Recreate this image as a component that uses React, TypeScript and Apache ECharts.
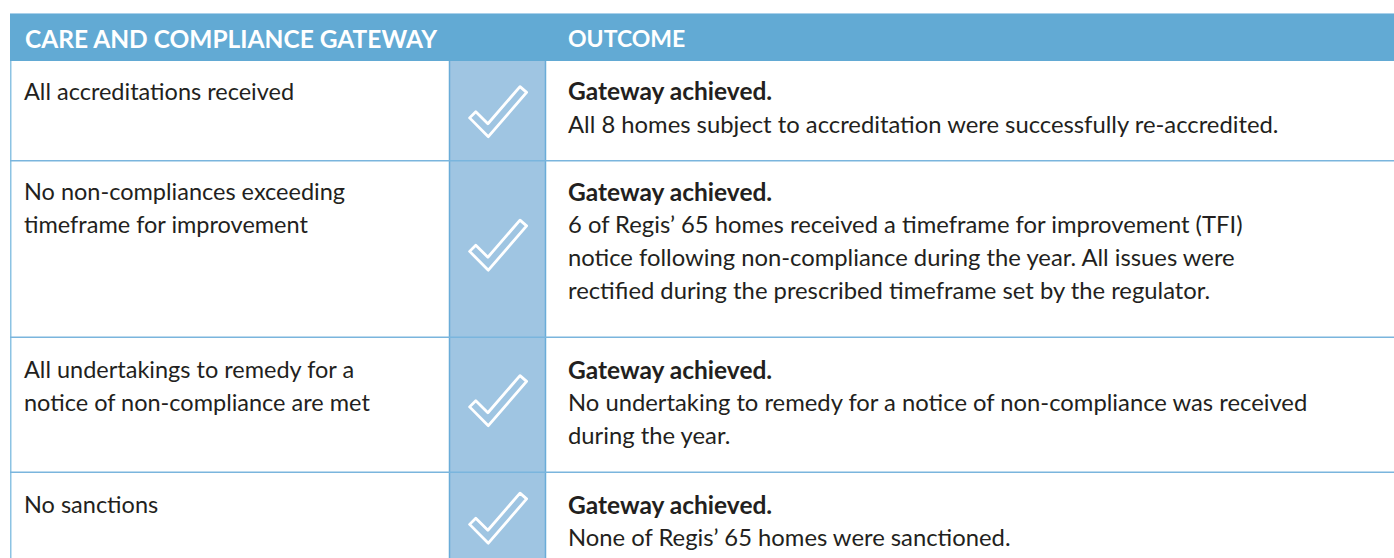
import React, { useEffect, useRef } from "react";
import * as echarts from "echarts";

const headers = ["CARE AND COMPLIANCE GATEWAY", "OUTCOME"];
const gateways = [
  "All accreditations received",
  "No non-compliances exceeding\ntimeframe for improvement",
  "All undertakings to remedy for a\nnotice of non-compliance are met",
  "No sanctions",
];
const outcomeTitles = [
  "Gateway achieved.",
  "Gateway achieved.",
  "Gateway achieved.",
  "Gateway achieved.",
];
const outcomeDetails = [
  "All 8 homes subject to accreditation were successfully re-accredited.",
  "6 of Regis’ 65 homes received a timeframe for improvement (TFI)\nnotice following non-compliance during the year. All issues were\nrectified during the prescribed timeframe set by the regulator.",
  "No undertaking to remedy for a notice of non-compliance was received\nduring the year.",
  "None of Regis’ 65 homes were sanctioned.",
];
const achieved = [true, true, true, true];

// layout
const W = 1394;
const H = 558;
const LEFT = 10;
const HEAD_TOP = 13;
const HEAD_BOTTOM = 61;
const ROW_BOUNDS = [61, 160.7, 337.3, 472.3, 558];
const FIRST_LINE = [92.5, 193, 371, 506];
const CHECK_CY = [111.5, 245, 400.5, 518];
const CHECK_L = 449.5;
const CHECK_R = 545.5;
const TEXT_L = 24;
const TEXT_R = 568;
const LH = 33;
const FONT = "Lato, 'Liberation Sans', sans-serif";
const INK = "#231f20";

const CHECK_PTS = [
  [10.8, 25.2],
  [21.8, 36.1],
  [51.0, 2.4],
  [57.0, 7.6],
  [22.2, 47.9],
  [5.2, 30.8],
];

export default function App() {
  const ref = useRef<HTMLDivElement>(null);
  useEffect(() => {
    document.body.style.margin = "0";
    const chart = echarts.init(ref.current!, null, { renderer: "svg" });
    const els: any[] = [];
    // header band
    els.push({ type: "rect", shape: { x: LEFT, y: HEAD_TOP, width: W - LEFT, height: HEAD_BOTTOM - HEAD_TOP }, style: { fill: "#62aad4" } });
    els.push({ type: "line", shape: { x1: LEFT, y1: HEAD_TOP + 0.5, x2: W, y2: HEAD_TOP + 0.5 }, style: { stroke: "#a9d0ea", lineWidth: 1 } });
    // check column
    els.push({ type: "rect", shape: { x: CHECK_L, y: HEAD_BOTTOM, width: CHECK_R - CHECK_L, height: H - HEAD_BOTTOM }, style: { fill: "#9fc5e2" } });
    // vertical borders
    els.push({ type: "line", shape: { x1: LEFT + 0.75, y1: HEAD_BOTTOM, x2: LEFT + 0.75, y2: H }, style: { stroke: "#8cc3e3", lineWidth: 1.5 } });
    els.push({ type: "line", shape: { x1: CHECK_L, y1: HEAD_BOTTOM, x2: CHECK_L, y2: H }, style: { stroke: "#6aacd8", lineWidth: 1.5 } });
    els.push({ type: "line", shape: { x1: CHECK_R, y1: HEAD_BOTTOM, x2: CHECK_R, y2: H }, style: { stroke: "#6aacd8", lineWidth: 1.5 } });
    // row separators
    for (let i = 1; i < ROW_BOUNDS.length - 1; i++) {
      els.push({ type: "line", shape: { x1: LEFT, y1: ROW_BOUNDS[i], x2: W, y2: ROW_BOUNDS[i] }, style: { stroke: "#7ab5dd", lineWidth: 1.5 } });
    }
    // header texts
    els.push({ type: "text", style: { x: 25, y: 38, text: headers[0], font: `bold 24.5px ${FONT}`, fill: "#ffffff", verticalAlign: "middle" } });
    els.push({ type: "text", style: { x: TEXT_R, y: 38, text: headers[1], font: `bold 23px ${FONT}`, fill: "#ffffff", verticalAlign: "middle" } });
    gateways.forEach((g, i) => {
      const y0 = FIRST_LINE[i] - LH / 2 - 2;
      els.push({ type: "text", style: { x: TEXT_L, y: y0, text: g, font: `23.5px ${FONT}`, fill: INK, verticalAlign: "top", lineHeight: LH } });
      els.push({ type: "text", style: { x: TEXT_R, y: y0, text: outcomeTitles[i], font: `bold 24.5px ${FONT}`, fill: INK, verticalAlign: "top", lineHeight: LH } });
      els.push({ type: "text", style: { x: TEXT_R, y: y0 + LH, text: outcomeDetails[i], font: `23.8px ${FONT}`, fill: INK, verticalAlign: "top", lineHeight: LH } });
      if (achieved[i]) {
        const cx = (CHECK_L + CHECK_R) / 2 + 0.5;
        const cy = CHECK_CY[i];
        const s = 1.1;
        els.push({
          type: "polygon",
          shape: { points: CHECK_PTS.map(([x, y]) => [cx + (x - 31) * s, cy + (y - 25) * s]) },
          style: { fill: "none", stroke: "#ffffff", lineWidth: 2.8, lineJoin: "round" },
        });
      }
    });
    chart.setOption({ animation: false, graphic: { elements: els } });
    return () => chart.dispose();
  }, []);
  return <div ref={ref} style={{ width: W, height: H, background: "#ffffff" }} />;
}
